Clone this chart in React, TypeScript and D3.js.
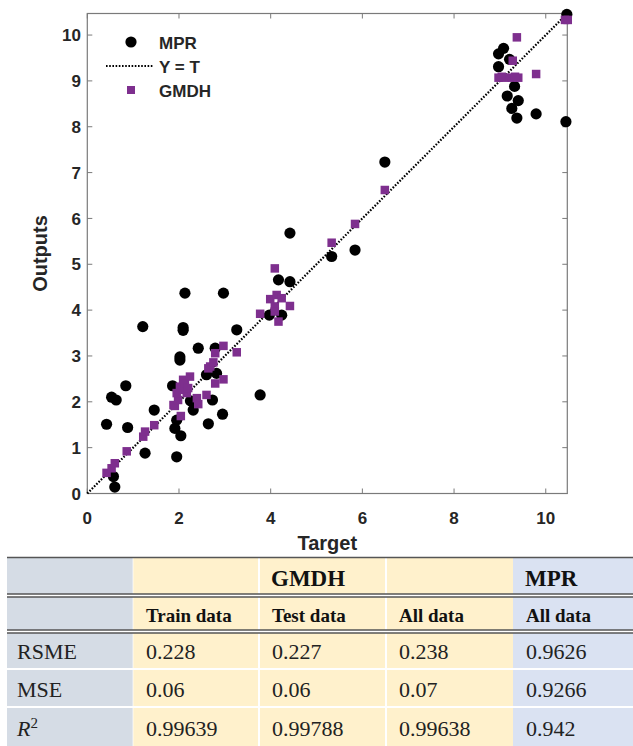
import React from "react";
import * as d3 from "d3";

const mprPoints: [number, number][] = [
  [0.42, 1.51], [0.53, 2.1], [0.63, 2.04], [0.84, 2.35], [0.88, 1.44], [0.57, 0.37], [0.6, 0.14],
  [1.21, 3.64], [1.26, 0.88], [1.46, 1.82], [1.86, 2.35], [1.91, 1.42], [1.95, 1.6], [1.95, 0.8],
  [2.04, 1.26], [2.02, 2.98], [2.02, 2.91], [2.09, 3.62], [2.09, 3.56], [2.13, 4.37], [2.25, 2.02],
  [2.31, 1.82], [2.42, 3.17], [2.6, 2.59], [2.64, 1.52], [2.73, 2.04], [2.79, 3.17], [2.82, 2.62],
  [2.95, 1.73], [2.97, 4.37], [3.26, 3.57], [3.77, 2.15], [3.97, 3.89], [4.17, 4.66], [4.24, 3.89],
  [4.42, 4.62], [4.42, 5.68], [5.33, 5.17], [5.84, 5.31], [6.49, 7.23], [8.97, 9.59], [9.08, 9.71],
  [9.21, 9.47], [8.97, 9.31], [9.32, 8.88], [9.16, 8.67], [9.4, 8.57], [9.26, 8.4], [9.37, 8.19],
  [9.79, 8.28], [10.44, 8.11], [10.46, 10.45],
];

const gmdhPoints: [number, number][] = [
  [0.42, 0.45], [0.53, 0.55], [0.6, 0.66], [0.86, 0.92], [1.22, 1.24], [1.26, 1.35], [1.46, 1.49],
  [1.88, 1.93], [1.91, 1.91], [1.98, 2.04], [2.04, 1.69], [2.02, 2.33], [1.95, 2.19], [2.17, 2.19],
  [2.09, 2.26], [2.09, 2.48], [2.24, 2.55], [2.13, 2.4], [2.2, 2.3], [2.39, 2.08], [2.42, 1.95],
  [2.6, 2.15], [2.64, 2.73], [2.68, 2.77], [2.75, 2.86], [2.79, 3.06], [2.97, 3.22], [3.26, 3.08],
  [2.97, 2.49], [2.79, 2.4], [3.77, 3.92], [3.99, 4.24], [4.13, 4.33], [4.24, 4.26], [4.09, 4.08],
  [4.09, 3.97], [4.42, 4.09], [4.17, 3.75], [4.09, 4.91], [5.33, 5.47], [5.84, 5.88], [6.49, 6.62],
  [8.97, 9.07], [9.11, 9.07], [9.26, 9.07], [9.4, 9.07], [9.04, 9.09], [9.33, 9.09], [9.28, 9.44],
  [9.37, 9.95], [9.79, 9.15], [10.42, 10.33], [10.48, 10.33],
];

const xTicks = [0, 2, 4, 6, 8, 10];
const yTicks = [0, 1, 2, 3, 4, 5, 6, 7, 8, 9, 10];
const axisMax = 10.47;

const legendItems = ["MPR", "Y = T", "GMDH"];

const tableGroupHeader = ["", "GMDH", "", "MPR"];
const tableSubHeader = ["", "Train data", "Test data", "All data", "All data"];
const tableRowLabels = ["RSME", "MSE", "R2"];
const tableValues = [
  ["0.228", "0.227", "0.238", "0.9626"],
  ["0.06", "0.06", "0.07", "0.9266"],
  ["0.99639", "0.99788", "0.99638", "0.942"],
];

const PURPLE = "#7e2f8e";

export default function App() {
  const left = 87.3, right = 567.3, top = 13.5, bottom = 493.5;
  const x = d3.scaleLinear().domain([0, axisMax]).range([left, right]);
  const y = d3.scaleLinear().domain([0, axisMax]).range([bottom, top]);
  const axisColor = "#7a7a7a";
  const tickColor = "#262626";
  const line = d3.line<[number, number]>().x((d) => x(d[0])).y((d) => y(d[1]));

  // table layout
  const colX = [7, 133, 259, 386, 513, 633];
  const rowY = [557, 594, 597, 630, 633, 669, 707, 746];
  const gray = "#d5dce5";
  const yellow = "#fff1cc";
  const blue = "#dae2f2";
  const colFill = [gray, yellow, yellow, yellow, blue];
  const serif = "'Liberation Serif', 'Times New Roman', serif";
  const sans = "'Liberation Sans', Arial, sans-serif";

  const bodyRows = [
    [rowY[4], rowY[5]],
    [rowY[5], rowY[6]],
    [rowY[6], rowY[7]],
  ];

  return (
    <div style={{ position: "absolute", left: 0, top: 0 }}>
      <svg width={633} height={746} style={{ display: "block", background: "#fff" }}>
        {/* plot frame */}
        <rect x={left} y={top} width={right - left} height={bottom - top} fill="#fff" stroke={axisColor} strokeWidth={1.2} />
        {xTicks.map((t) => (
          <g key={"xt" + t}>
            <line x1={x(t)} x2={x(t)} y1={bottom} y2={bottom - 5} stroke={axisColor} />
            <line x1={x(t)} x2={x(t)} y1={top} y2={top + 5} stroke={axisColor} />
            <text x={x(t)} y={524} textAnchor="middle" fontFamily={sans} fontWeight="bold" fontSize={17} fill={tickColor}>
              {t}
            </text>
          </g>
        ))}
        {yTicks.map((t) => (
          <g key={"yt" + t}>
            <line x1={left} x2={left + 5} y1={y(t)} y2={y(t)} stroke={axisColor} />
            <line x1={right} x2={right - 5} y1={y(t)} y2={y(t)} stroke={axisColor} />
            <text x={81} y={y(t)} dy="0.36em" textAnchor="end" fontFamily={sans} fontWeight="bold" fontSize={17} fill={tickColor}>
              {t}
            </text>
          </g>
        ))}
        <text x={(left + right) / 2} y={550} textAnchor="middle" fontFamily={sans} fontWeight="bold" fontSize={20} fill={tickColor}>
          Target
        </text>
        <text
          transform={`translate(47,${(top + bottom) / 2}) rotate(-90)`}
          textAnchor="middle"
          fontFamily={sans}
          fontWeight="bold"
          fontSize={20}
          fill={tickColor}
        >
          Outputs
        </text>

        {/* Y = T line */}
        <path d={line([[0, 0], [axisMax, axisMax]]) || ""} stroke="#000" strokeWidth={2.2} strokeDasharray="1.6 1.6" fill="none" />

        {/* MPR circles */}
        {mprPoints.map((p, i) => (
          <circle key={"m" + i} cx={x(p[0])} cy={y(p[1])} r={5.6} fill="#000" />
        ))}
        {/* GMDH squares */}
        {gmdhPoints.map((p, i) => (
          <rect key={"g" + i} x={x(p[0]) - 4.25} y={y(p[1]) - 4.25} width={8.5} height={8.5} fill={PURPLE} />
        ))}

        {/* legend */}
        <circle cx={131} cy={42} r={5.6} fill="#000" />
        <line x1={106} x2={153} y1={66} y2={66} stroke="#000" strokeWidth={2} strokeDasharray="1.6 1.6" />
        <rect x={127} y={86} width={8} height={8} fill={PURPLE} />
        {legendItems.map((s, i) => (
          <text key={s} x={159} y={48.5 + i * 24} fontFamily={sans} fontWeight="bold" fontSize={17} fill={tickColor}>
            {s}
          </text>
        ))}

        {/* table backgrounds */}
        {colFill.map((c, i) => (
          <rect key={"bg" + i} x={colX[i]} y={rowY[0]} width={colX[i + 1] - colX[i]} height={rowY[7] - rowY[0]} fill={c} />
        ))}
        {/* white separators */}
        {[colX[1], colX[2], colX[3]].map((cx, i) => (
          <line key={"vs" + i} x1={cx} x2={cx} y1={rowY[0]} y2={rowY[7]} stroke="#fff" strokeWidth={i === 0 ? 1.2 : 2} strokeOpacity={i === 0 ? 0.6 : 1} />
        ))}
        {[rowY[5], rowY[6]].map((ry, i) => (
          <line key={"hs" + i} x1={colX[0]} x2={colX[5]} y1={ry} y2={ry} stroke="#fff" strokeWidth={2} />
        ))}
        {/* dark rules */}
        <line x1={colX[0]} x2={colX[5]} y1={557.5} y2={557.5} stroke="#555" strokeWidth={1.5} />
        {[rowY[1], rowY[3]].map((ry, i) => (
          <g key={"dr" + i}>
            <rect x={colX[0]} y={ry} width={colX[5] - colX[0]} height={3} fill="#fff" />
            <line x1={colX[0]} x2={colX[5]} y1={ry} y2={ry} stroke="#555" strokeWidth={1.5} />
            <line x1={colX[0]} x2={colX[5]} y1={ry + 3} y2={ry + 3} stroke="#555" strokeWidth={1.5} />
          </g>
        ))}

        {/* table text */}
        {tableGroupHeader.map((s, i) =>
          s ? (
            <text key={"gh" + i} x={colX[i + 1] + 12} y={586} fontFamily={serif} fontWeight="bold" fontSize={23} fill="#111">
              {s}
            </text>
          ) : null
        )}
        {tableSubHeader.map((s, i) =>
          s ? (
            <text key={"sh" + i} x={colX[i] + 13} y={622} fontFamily={serif} fontWeight="bold" fontSize={19} fill="#111">
              {s}
            </text>
          ) : null
        )}
        {tableRowLabels.map((s, r) => (
          <text key={"rl" + r} x={17} y={bodyRows[r][1] - 10} fontFamily={serif} fontSize={22} fill="#222">
            {s === "R2" ? (
              <>
                <tspan fontStyle="italic">R</tspan>
                <tspan dy={-8} fontSize={15}>2</tspan>
              </>
            ) : (
              s
            )}
          </text>
        ))}
        {tableValues.map((row, r) =>
          row.map((v, c) => (
            <text key={"v" + r + c} x={colX[c + 1] + 13} y={bodyRows[r][1] - 10} fontFamily={serif} fontSize={22} fill="#222">
              {v}
            </text>
          ))
        )}
      </svg>
    </div>
  );
}
